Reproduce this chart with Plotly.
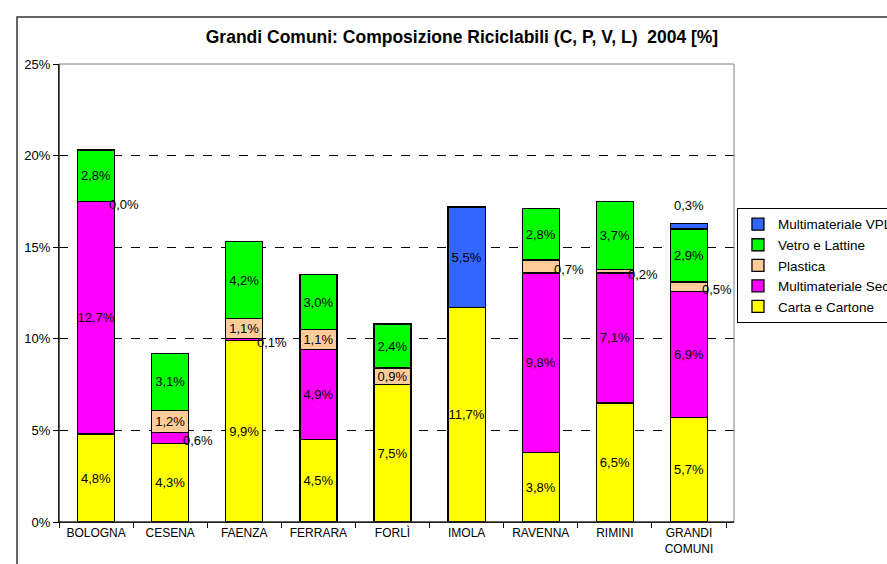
import plotly.graph_objects as go

# Grandi Comuni: composizione riciclabili 2004 [%]
comuni = ["BOLOGNA", "CESENA", "FAENZA", "FERRARA", "FORLÌ", "IMOLA", "RAVENNA", "RIMINI", "GRANDI<br>COMUNI"]

# None = segment absent (no label)
carta = [4.8, 4.3, 9.9, 4.5, 7.5, 11.7, 3.8, 6.5, 5.7]
secco = [12.7, 0.6, 0.1, 4.9, None, None, 9.8, 7.1, 6.9]
plastica = [0.0, 1.2, 1.1, 1.1, 0.9, None, 0.7, 0.2, 0.5]
vetro = [2.8, 3.1, 4.2, 3.0, 2.4, None, 2.8, 3.7, 2.9]
vpl = [None, None, None, None, None, 5.5, None, None, 0.3]

y_ticks = [0, 5, 10, 15, 20, 25]

series = [
    ("Carta e Cartone", carta, "#FFFF00"),
    ("Multimateriale Secco", secco, "#FF00FF"),
    ("Plastica", plastica, "#FFCC99"),
    ("Vetro e Lattine", vetro, "#00FF00"),
    ("Multimateriale VPL", vpl, "#3366FF"),
]

FONT = "Liberation Sans, Arial, sans-serif"
SMALL = 0.8  # values below this get their label outside the bar


def fmt(v):
    return f"{v:.1f}".replace(".", ",") + "%"


fig = go.Figure()
annotations = []
base = [0.0] * len(comuni)

for name, vals, color in series:
    ys = [v if v is not None else 0 for v in vals]
    txt = [fmt(v) if (v is not None and v >= SMALL) else "" for v in vals]
    fig.add_trace(go.Bar(
        x=comuni, y=ys, name=name, text=txt,
        textposition="inside", insidetextanchor="middle", textangle=0,
        textfont=dict(color="black", size=13, family=FONT),
        marker=dict(color=color, line=dict(color="black", width=1.3)),
        width=0.5, hoverinfo="skip",
    ))
    for i, v in enumerate(vals):
        if v is not None and v < SMALL:
            if name == "Multimateriale VPL":
                annotations.append(dict(x=comuni[i], y=base[i] + v, text=fmt(v), showarrow=False,
                                        yanchor="bottom", yshift=8,
                                        font=dict(size=13, color="black", family=FONT)))
            else:
                annotations.append(dict(x=comuni[i], y=base[i] + v / 2, text=fmt(v), showarrow=False,
                                        xshift=28, yshift=-3,
                                        font=dict(size=13, color="black", family=FONT)))
    base = [b + y for b, y in zip(base, ys)]

fig.update_layout(
    barmode="stack",
    width=887, height=564,
    margin=dict(l=59, r=153, t=64, b=42, autoexpand=False),
    paper_bgcolor="white", plot_bgcolor="white",
    font=dict(family=FONT, size=13, color="black"),
    title=dict(text="<b>Grandi Comuni: Composizione Riciclabili (C, P, V, L)  2004 [%]</b>",
               x=0.597, xref="paper", xanchor="center",
               y=1 - 37 / 564, yref="container", yanchor="middle",
               font=dict(size=17.5, family=FONT, color="black")),
    uniformtext=dict(minsize=13, mode="show"),
    showlegend=True,
    legend=dict(x=1.0044, y=0.6857, xanchor="left", yanchor="top",
                traceorder="reversed", bgcolor="white",
                bordercolor="black", borderwidth=1,
                font=dict(size=13.5, family=FONT), itemwidth=30),
    annotations=annotations,
)

fig.update_yaxes(range=[0, 25], tickvals=y_ticks, ticktext=[f"{t}%" for t in y_ticks],
                 showgrid=True, gridcolor="black", griddash="dash", gridwidth=1,
                 showline=True, linecolor="black", linewidth=1,
                 ticks="outside", ticklen=5, tickcolor="black",
                 zeroline=False, tickfont=dict(size=13))
fig.update_xaxes(showline=True, linecolor="black", linewidth=1,
                 ticks="outside", tickson="boundaries", ticklen=5, tickcolor="black",
                 showgrid=False, tickfont=dict(size=12))

# plot area border (gray top/right) and outer chart frame
fig.add_shape(type="rect", xref="paper", yref="paper", x0=0, x1=1, y0=0, y1=1,
              line=dict(color="#808080", width=1), layer="above")
fig.add_shape(type="line", xref="paper", yref="paper", x0=0, x1=0, y0=0, y1=1,
              line=dict(color="black", width=1), layer="above")
fig.add_shape(type="line", xref="paper", yref="paper", x0=0, x1=1, y0=0, y1=0,
              line=dict(color="black", width=1), layer="above")
fig.add_shape(type="rect", xref="paper", yref="paper", x0=-0.0622, x1=1.5, y0=-0.5, y1=1.1026,
              line=dict(color="#333333", width=1.5), layer="above")

fig.write_html("out.html", config={"displayModeBar": False},
               post_script="document.body.style.margin='0px';")
